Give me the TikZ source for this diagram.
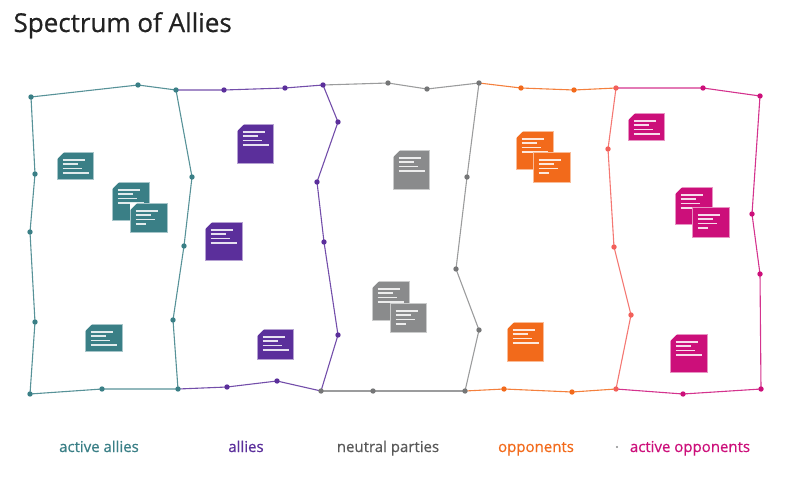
\documentclass[tikz,border=0pt]{standalone}
\usepackage{fontspec}
\setmainfont{Open Sans}
\newfontfamily\medfont{Open Sans}[FakeBold=0.6]
\usepackage{tikz}
\definecolor{tealc}{HTML}{3A7F86}
\definecolor{purplec}{HTML}{5B2F9B}
\definecolor{grayc}{HTML}{8A8B8C}
\definecolor{orangec}{HTML}{F26A1B}
\definecolor{magentac}{HTML}{CC0F7A}
\definecolor{salmonc}{HTML}{F2605A}
\definecolor{titlec}{HTML}{222222}

% white lines on a sticky note, last length given
\newcommand{\notelines}[2]{
    \foreach \dy/\len in {8/22,12/15,16.5/19,21/#2}
        \draw[noteline] ([shift={(5.5,\dy)}]#1.north west) -- ++(\len,0);
}
% folded corner
\newcommand{\notefold}[1]{
    \fill[white] (#1.north west) -- ++(7,0) -- ++(-7,7) -- cycle;
}

\begin{document}
\begin{tikzpicture}[x=1pt, y=-1pt,
    border/.style={line width=1.1pt, draw=#1, opacity=0.85},
    note/.style={rectangle, fill=#1, draw=#1!45!white, line width=0.7pt, anchor=north west, inner sep=0pt},
    noteline/.style={white, line width=1.1pt, opacity=0.85},
    group/.style={font=\medfont\fontsize{15}{18}\selectfont, anchor=base, text=#1}]
    \useasboundingbox (0,0) rectangle (800,479);

    % Title
    \node[anchor=base west, font=\medfont\fontsize{26}{30}\selectfont, text=titlec] (title) at (10,32) {Spectrum of Allies};

    % Boundaries
    \coordinate (b0a) at (31,97);  \coordinate (b0b) at (35,174); \coordinate (b0c) at (30,232);
    \coordinate (b0d) at (35,322); \coordinate (b0e) at (30,394);
    \coordinate (b1a) at (176,90); \coordinate (b1b) at (192,177); \coordinate (b1c) at (184,246);
    \coordinate (b1d) at (173,320); \coordinate (b1e) at (178,389);
    \coordinate (b2a) at (323,85); \coordinate (b2b) at (338,122); \coordinate (b2c) at (317,182);
    \coordinate (b2d) at (324,242); \coordinate (b2e) at (338,335); \coordinate (b2f) at (321,391);
    \coordinate (b3a) at (479,83); \coordinate (b3b) at (467,177); \coordinate (b3c) at (456,269);
    \coordinate (b3d) at (479,330); \coordinate (b3e) at (465,391);
    \coordinate (b4a) at (616,88); \coordinate (b4b) at (608,149); \coordinate (b4c) at (614,247);
    \coordinate (b4d) at (631,315); \coordinate (b4e) at (616,389);
    \coordinate (b5a) at (760,96); \coordinate (b5b) at (752,214); \coordinate (b5c) at (760,274);
    \coordinate (b5d) at (761,389);

    % Top and bottom points
    \coordinate (t1) at (138,85); \coordinate (t2) at (224,90); \coordinate (t3) at (285,88);
    \coordinate (t4) at (388,83); \coordinate (t5) at (427,89); \coordinate (t6) at (521,88);
    \coordinate (t7) at (574,90); \coordinate (t8) at (703,88);
    \coordinate (u1) at (102,389); \coordinate (u2) at (227,387); \coordinate (u3) at (277,381);
    \coordinate (u4) at (373,391); \coordinate (u5) at (504,389); \coordinate (u6) at (572,392);
    \coordinate (u7) at (683,394);

    % Edges
    \draw[border=tealc] (b1a) -- (t1) -- (b0a) -- (b0b) -- (b0c) -- (b0d) -- (b0e) -- (u1) -- (b1e);
    \draw[border=tealc] (b1a) -- (b1b) -- (b1c) -- (b1d) -- (b1e);
    \draw[border=purplec] (b1a) -- (t2) -- (t3) -- (b2a);
    \draw[border=purplec] (b1e) -- (u2) -- (u3) -- (b2f);
    \draw[border=purplec] (b2a) -- (b2b) -- (b2c) -- (b2d) -- (b2e) -- (b2f);
    \draw[border=grayc] (b2a) -- (t4) -- (t5) -- (b3a);
    \draw[border=grayc] (b2f) -- (u4) -- (b3e);
    \draw[border=grayc] (b3a) -- (b3b) -- (b3c) -- (b3d) -- (b3e);
    \draw[border=orangec] (b3a) -- (t6) -- (t7) -- (b4a);
    \draw[border=orangec] (b3e) -- (u5) -- (u6) -- (b4e);
    \draw[border=salmonc] (b4a) -- (b4b) -- (b4c) -- (b4d) -- (b4e);
    \draw[border=magentac] (b4a) -- (t8) -- (b5a) -- (b5b) -- (b5c) -- (b5d) -- (u7) -- (b4e);

    % Vertices
    \foreach \p in {b0a,b0b,b0c,b0d,b0e,b1a,b1b,b1c,b1d,b1e,t1,u1}
        \fill[tealc] (\p) circle (2.7);
    \foreach \p in {b2a,b2b,b2c,b2d,b2e,t2,t3,u2,u3}
        \fill[purplec] (\p) circle (2.7);
    \foreach \p in {b2f,b3a,b3b,b3c,b3d,b3e,t4,t5,u4}
        \fill[grayc!85!black] (\p) circle (2.7);
    \foreach \p in {t6,t7,u5,u6}
        \fill[orangec] (\p) circle (2.7);
    \foreach \p in {b4a,b4b,b4c,b4d,b4e}
        \fill[salmonc] (\p) circle (2.7);
    \foreach \p in {b5a,b5b,b5c,b5d,t8,u7}
        \fill[magentac] (\p) circle (2.7);

    % Active allies notes
    \node[note=tealc, minimum width=36, minimum height=27] (aa1) at (57,152) {};
    \notefold{aa1} \notelines{aa1}{26}
    \node[note=tealc, minimum width=37, minimum height=38] (aa2) at (112,182) {};
    \notefold{aa2} \notelines{aa2}{26}
    \node[note=tealc, minimum width=37, minimum height=29] (aa3) at (130,203) {};
    \notefold{aa3} \notelines{aa3}{10}
    \node[note=tealc, minimum width=37, minimum height=27] (aa4) at (85,324) {};
    \notefold{aa4} \notelines{aa4}{26}

    % Allies notes
    \node[note=purplec, minimum width=36, minimum height=39] (al1) at (237,124) {};
    \notefold{al1} \notelines{al1}{26}
    \node[note=purplec, minimum width=37, minimum height=38] (al2) at (205,222) {};
    \notefold{al2} \notelines{al2}{26}
    \node[note=purplec, minimum width=36, minimum height=30] (al3) at (257,329) {};
    \notefold{al3} \notelines{al3}{26}

    % Neutral parties notes
    \node[note=grayc, minimum width=36, minimum height=39] (ne1) at (393,150) {};
    \notefold{ne1} \notelines{ne1}{26}
    \node[note=grayc, minimum width=37, minimum height=39] (ne2) at (372,281) {};
    \notefold{ne2} \notelines{ne2}{26}
    \node[note=grayc, minimum width=36, minimum height=29] (ne3) at (390,303) {};
    \notelines{ne3}{10}

    % Opponents notes
    \node[note=orangec, minimum width=37, minimum height=38] (op1) at (516,131) {};
    \notefold{op1} \notelines{op1}{26}
    \node[note=orangec, minimum width=37, minimum height=30] (op2) at (533,152) {};
    \notelines{op2}{10}
    \node[note=orangec, minimum width=36, minimum height=39] (op3) at (507,322) {};
    \notefold{op3} \notelines{op3}{26}

    % Active opponents notes
    \node[note=magentac, minimum width=36, minimum height=27] (ao1) at (628,113) {};
    \notefold{ao1} \notelines{ao1}{26}
    \node[note=magentac, minimum width=37, minimum height=37] (ao2) at (675,187) {};
    \notefold{ao2} \notelines{ao2}{26}
    \node[note=magentac, minimum width=37, minimum height=30] (ao3) at (692,207) {};
    \notelines{ao3}{10}
    \node[note=magentac, minimum width=37, minimum height=38] (ao4) at (670,334) {};
    \notefold{ao4} \notelines{ao4}{26}

    % Group labels
    \node[group=tealc] (lab1) at (99,452) {active allies};
    \node[group=purplec] (lab2) at (246,452) {allies};
    \node[group=black!65] (lab3) at (388,452) {neutral parties};
    \node[group=orangec] (lab4) at (536,452) {opponents};
    \node[group=magentac] (lab5) at (690,452) {active opponents};
    \fill[grayc] (617,447) circle (1.2);

\end{tikzpicture}
\end{document}
